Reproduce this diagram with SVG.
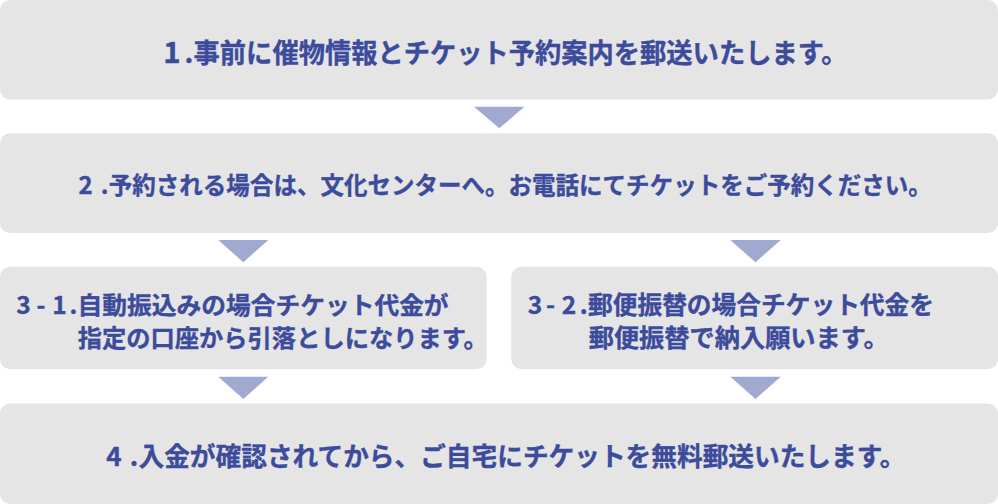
<svg xmlns="http://www.w3.org/2000/svg" width="998" height="504" viewBox="0 0 998 504">
<style>
.box{fill:#e5e5e5;}
.arr{fill:#a1a9d1;}
text{font-family:"Noto Sans CJK JP","Noto Sans CJK SC",sans-serif;font-weight:700;fill:#3c4b9c;stroke:#3c4b9c;stroke-width:0.35px;}
.c{text-anchor:middle;}
.e{text-anchor:end;}
.f27{font-size:27px;}
.f30{font-size:29.5px;}
.f24{font-size:24px;}
.f26{font-size:26px;}
.f25{font-size:24.5px;}
</style>
<rect width="998" height="504" fill="#ffffff"/>
<g id="step1">
<rect class="box" x="0" y="0" width="998" height="99.5" rx="10"/>
<text class="f30 c" x="172" y="63">1</text>
<text class="f27 e" x="193.4" y="63">.</text>
<text class="f27" x="193.6" y="63" textLength="654" lengthAdjust="spacingAndGlyphs">事前に催物情報とチケット予約案内を郵送いたします。</text>
</g>
<g id="step2">
<rect class="box" x="0" y="133.3" width="998" height="99.7" rx="10"/>
<text class="f24 c" x="85.5" y="193.5">2</text>
<text class="f24 e" x="108.6" y="193.5">.</text>
<text class="f24" x="108.8" y="193.5" textLength="823" lengthAdjust="spacingAndGlyphs">予約される場合は、文化センターへ。お電話にてチケットをご予約ください。</text>
</g>
<g id="step3-1">
<rect class="box" x="0" y="266.8" width="486.7" height="102.5" rx="10"/>
<text class="f25 c" x="23.5" y="313.5">3</text>
<text class="f24 c" x="41" y="313.5">-</text>
<text class="f25 c" x="59.5" y="313.5">1</text>
<text class="f24 e" x="77.4" y="313.5">.</text>
<text class="f24" x="77.6" y="313.5" textLength="371" lengthAdjust="spacingAndGlyphs">自動振込みの場合チケット代金が</text>
<text class="f24" x="77.8" y="346.5" textLength="410" lengthAdjust="spacingAndGlyphs">指定の口座から引落としになります。</text>
</g>
<g id="step3-2">
<rect class="box" x="511.3" y="266.8" width="486.7" height="102.5" rx="10"/>
<text class="f25 c" x="535" y="313.5">3</text>
<text class="f25 c" x="550.5" y="313.5">-</text>
<text class="f25 c" x="569" y="313.5">2</text>
<text class="f25 e" x="587.8" y="313.5">.</text>
<text class="f25" x="588" y="313.5" textLength="346" lengthAdjust="spacingAndGlyphs">郵便振替の場合チケット代金を</text>
<text class="f25" x="588.7" y="346.5" textLength="300" lengthAdjust="spacingAndGlyphs">郵便振替で納入願います。</text>
</g>
<g id="step4">
<rect class="box" x="0" y="403.5" width="998" height="100.5" rx="10"/>
<text class="f26 c" x="114" y="466">4</text>
<text class="f26 e" x="138.3" y="466">.</text>
<text class="f26" x="138.5" y="466" textLength="767" lengthAdjust="spacingAndGlyphs">入金が確認されてから、ご自宅にチケットを無料郵送いたします。</text>
</g>
<g id="connectors">
<polygon class="arr" points="474,106.7 524.5,106.7 499.3,128.3"/>
<polygon class="arr" points="218.3,240 268.3,240 243.3,262.3"/>
<polygon class="arr" points="730.3,240 780.7,240 755.5,262.3"/>
<polygon class="arr" points="218.3,376.7 268.3,376.7 243.3,399"/>
<polygon class="arr" points="730.3,376.7 780.7,376.7 755.5,399"/>
</g>
</svg>
